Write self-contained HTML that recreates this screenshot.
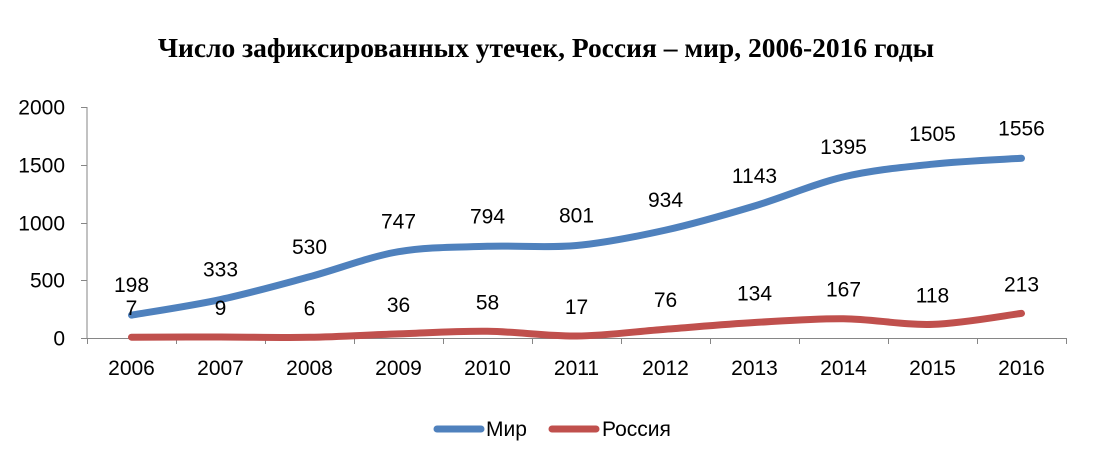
<!DOCTYPE html>
<html><head><meta charset="utf-8"><style>
html,body{margin:0;padding:0;background:#fff;}
svg{display:block;}
</style></head><body>
<svg id="s" width="1107" height="472" xmlns="http://www.w3.org/2000/svg">
<text x="546" y="57" text-anchor="middle" font-family="Liberation Serif, serif" font-weight="bold" font-size="27.5">Число зафиксированных утечек, Россия – мир, 2006-2016 годы</text>
</svg>
<script>
var s=document.getElementById('s'),NS='http://www.w3.org/2000/svg';
function el(t,a,txt){var e=document.createElementNS(NS,t);for(var k in a)e.setAttribute(k,a[k]);if(txt!=null)e.textContent=txt;s.appendChild(e);return e;}
function Y(v){return 338-v*0.1155;}
var F='Liberation Sans, sans-serif',FS=21;
el('line',{x1:87,y1:107,x2:87,y2:338,stroke:'#868686','stroke-width':1});
[0,500,1000,1500,2000].forEach(function(v){var y=Math.round(Y(v))+0.5;
el('line',{x1:81,y1:y,x2:87,y2:y,stroke:'#868686'});
el('text',{x:65,y:y+7,'text-anchor':'end','font-family':F,'font-size':FS},v);});
el('line',{x1:87,y1:338.5,x2:1066,y2:338.5,stroke:'#868686'});
var xs=[];
for(var i=0;i<=11;i++){var x=87+89*i;el('line',{x1:x+0.5,y1:338,x2:x+0.5,y2:344,stroke:'#868686'});}
for(var i=0;i<11;i++){xs.push(131.5+89*i);el('text',{x:131.5+89*i,y:375,'text-anchor':'middle','font-family':F,'font-size':FS},2006+i);}
function path(vals){var p=vals.map(function(v,i){return [xs[i],Y(v)];});
var d='M'+p[0][0]+','+p[0][1];
for(var i=0;i<p.length-1;i++){var p0=p[i-1]||p[i],p1=p[i],p2=p[i+1],p3=p[i+2]||p[i+1];var t=6;
d+=' C'+(p1[0]+(p2[0]-p0[0])/t)+','+(p1[1]+(p2[1]-p0[1])/t)+' '+(p2[0]-(p3[0]-p1[0])/t)+','+(p2[1]-(p3[1]-p1[1])/t)+' '+p2[0]+','+p2[1];}
return d;}
var mir=[198,333,530,747,794,801,934,1143,1395,1505,1556];
var ru=[7,9,6,36,58,17,76,134,167,118,213];
el('path',{d:path(ru),fill:'none',stroke:'#C0504D','stroke-width':7,'stroke-linecap':'round','stroke-linejoin':'round'});
el('path',{d:path(mir),fill:'none',stroke:'#4F81BD','stroke-width':7,'stroke-linecap':'round','stroke-linejoin':'round'});
mir.forEach(function(v,i){el('text',{x:xs[i],y:Y(v)-23,'text-anchor':'middle','font-family':F,'font-size':FS},v);});
ru.forEach(function(v,i){el('text',{x:xs[i],y:Y(v)-22,'text-anchor':'middle','font-family':F,'font-size':FS},v);});
el('line',{x1:437,y1:429,x2:481,y2:429,stroke:'#4F81BD','stroke-width':7,'stroke-linecap':'round'});
el('text',{x:486,y:436,'font-family':F,'font-size':FS},'Мир');
el('line',{x1:552,y1:429,x2:596,y2:429,stroke:'#C0504D','stroke-width':7,'stroke-linecap':'round'});
el('text',{x:602,y:436,'font-family':F,'font-size':FS},'Россия');
</script>
</body></html>
